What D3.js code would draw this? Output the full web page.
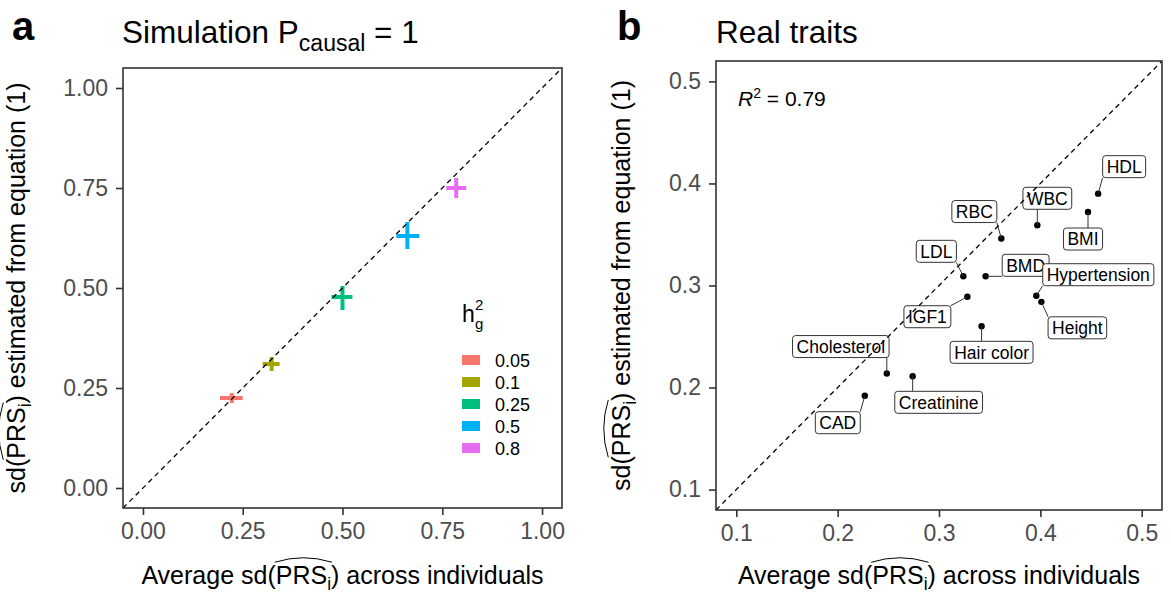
<!DOCTYPE html>
<html>
<head>
<meta charset="utf-8">
<script src="https://cdn.jsdelivr.net/npm/d3@7"></script>
<style>
body { margin: 0; background: #fff; }
svg { font-family: "Liberation Sans", Arial, Helvetica, sans-serif; }
</style>
</head>
<body>
<div id="chart"></div>
<script>
// panel a: simulation
const simH2 = ["0.05", "0.1", "0.25", "0.5", "0.8"];
const simX = [0.2225, 0.3225, 0.5, 0.6625, 0.785];
const simY = [0.225, 0.31, 0.4775, 0.63, 0.75];
const simXLo = [0.193, 0.30, 0.4725, 0.635, 0.76];
const simXHi = [0.25, 0.3425, 0.525, 0.6925, 0.81];
const simYLo = [0.2125, 0.2925, 0.445, 0.5975, 0.725];
const simYHi = [0.2375, 0.3275, 0.505, 0.665, 0.775];
const simTicks = [0, 0.25, 0.5, 0.75, 1];

// panel b: real traits
const traitNames = ["HDL", "BMI", "WBC", "RBC", "LDL", "BMD", "Hypertension", "Height", "IGF1", "Hair color", "Cholesterol", "Creatinine", "CAD"];
const traitX = [0.457, 0.447, 0.397, 0.3615, 0.324, 0.346, 0.396, 0.401, 0.328, 0.342, 0.2485, 0.274, 0.2268];
const traitY = [0.390, 0.372, 0.359, 0.346, 0.309, 0.309, 0.290, 0.284, 0.289, 0.260, 0.2137, 0.211, 0.192];
const realTicks = [0.1, 0.2, 0.3, 0.4, 0.5];
const rSquared = "0.79";

// repel offsets of the label boxes (px)
const labelShift = [[26, -27], [-5, 27], [10, -27], [-27, -27], [-27, -25], [40, -11], [62, -21],
                    [36, 26], [-40, 20], [10, 26], [-46, -27], [26, 26], [-27, 27]];

const COLORS = ["#F8766D", "#A3A500", "#00BF7D", "#00B0F6", "#E76BF3"];
const TICK_FS = 23, TITLE_FS = 25;

const svg = d3.select("#chart").append("svg")
    .attr("width", 1171)
    .attr("height", 593);

const A = { left: 123, right: 562, top: 68, bottom: 508 };
const B = { left: 716, right: 1162, top: 61, bottom: 510 };

const xA = d3.scaleLinear().domain([-0.05, 1.05]).range([A.left, A.right]);
const yA = d3.scaleLinear().domain([-0.05, 1.05]).range([A.bottom, A.top]);
const xB = d3.scaleLinear().domain([0.08, 0.52]).range([B.left, B.right]);
const yB = d3.scaleLinear().domain([0.08, 0.52]).range([B.bottom, B.top]);

function styleAxis(g) {
    g.select(".domain").remove();
    g.selectAll(".tick line").attr("stroke", "#333").attr("stroke-width", 1.6);
    g.selectAll(".tick text").attr("fill", "#4D4D4D").attr("font-size", TICK_FS);
}

function drawFrame(P, x, y, ticks, fmt) {
    svg.append("g")
        .attr("transform", `translate(0,${P.bottom})`)
        .call(d3.axisBottom(x).tickValues(ticks).tickFormat(d3.format(fmt)).tickSize(7).tickPadding(8))
        .call(styleAxis);
    svg.append("g")
        .attr("transform", `translate(${P.left},0)`)
        .call(d3.axisLeft(y).tickValues(ticks).tickFormat(d3.format(fmt)).tickSize(7).tickPadding(8))
        .call(styleAxis);
}

function drawBorder(P) {
    svg.append("rect")
        .attr("x", P.left).attr("y", P.top)
        .attr("width", P.right - P.left).attr("height", P.bottom - P.top)
        .attr("fill", "none").attr("stroke", "#333").attr("stroke-width", 1.6);
}

function drawDiagonal(P, x, y, clipId) {
    svg.append("clipPath").attr("id", clipId)
        .append("rect")
        .attr("x", P.left).attr("y", P.top)
        .attr("width", P.right - P.left).attr("height", P.bottom - P.top);
    const d = x.domain();
    svg.append("line")
        .attr("clip-path", `url(#${clipId})`)
        .attr("x1", x(d[0])).attr("y1", y(d[0]))
        .attr("x2", x(d[1])).attr("y2", y(d[1]))
        .attr("stroke", "#000").attr("stroke-width", 1.3)
        .attr("stroke-dasharray", "5,4");
}

// "Average sd(PRS_i) ..." style title with a wide hat over PRS_i
function hatTitle(g, before, after) {
    const t = g.append("text")
        .attr("text-anchor", "middle")
        .attr("font-size", TITLE_FS)
        .attr("fill", "#000");
    t.append("tspan").text(before);
    t.append("tspan").text("PRS");
    t.append("tspan").attr("font-size", TITLE_FS * 0.7).attr("dy", 6).text("i");
    t.append("tspan").attr("dy", -6).text(after);
    const node = t.node();
    const i0 = before.length, i1 = before.length + 3;
    const x0 = node.getStartPositionOfChar(i0).x - 1;
    const x1 = node.getEndPositionOfChar(i1).x + 1;
    const yh = -TITLE_FS * 0.75 - 3;
    g.append("path")
        .attr("d", `M${x0},${yh} Q${(x0 + x1) / 2},${yh - 9} ${x1},${yh}`)
        .attr("fill", "none").attr("stroke", "#000").attr("stroke-width", 1);
}

function axisTitles(P, yTitleX) {
    const gx = svg.append("g").attr("transform", `translate(${(P.left + P.right) / 2},584)`);
    hatTitle(gx, "Average sd(", ") across individuals");
    const gy = svg.append("g").attr("transform", `translate(${yTitleX},${(P.top + P.bottom) / 2}) rotate(-90)`);
    hatTitle(gy, "sd(", ") estimated from equation (1)");
}

// ---------- panel a ----------
drawFrame(A, xA, yA, simTicks, ".2f");

const simData = simH2.map((h, i) => ({
    h: h, x: simX[i], y: simY[i],
    xlo: simXLo[i], xhi: simXHi[i], ylo: simYLo[i], yhi: simYHi[i], color: COLORS[i]
}));

const crosses = svg.append("g").selectAll("g")
    .data(simData)
    .enter()
    .append("g")
    .attr("stroke", d => d.color)
    .attr("stroke-width", 4);
crosses.append("line")
    .attr("x1", d => xA(d.xlo)).attr("x2", d => xA(d.xhi))
    .attr("y1", d => yA(d.y)).attr("y2", d => yA(d.y));
crosses.append("line")
    .attr("x1", d => xA(d.x)).attr("x2", d => xA(d.x))
    .attr("y1", d => yA(d.ylo)).attr("y2", d => yA(d.yhi));

drawDiagonal(A, xA, yA, "clipA");
drawBorder(A);

// legend
const legend = svg.append("g").attr("transform", "translate(462,0)");
legend.append("text").attr("x", 0).attr("y", 322).attr("font-size", 23).text("h");
legend.append("text").attr("x", 13).attr("y", 310).attr("font-size", 15).text("2");
legend.append("text").attr("x", 13).attr("y", 329).attr("font-size", 15).text("g");
legend.selectAll("rect.key")
    .data(simData)
    .enter()
    .append("rect")
    .attr("class", "key")
    .attr("x", 0)
    .attr("y", (d, i) => 355 + i * 22)
    .attr("width", 18).attr("height", 10)
    .attr("fill", d => d.color);
legend.selectAll("text.lab")
    .data(simData)
    .enter()
    .append("text")
    .attr("class", "lab")
    .attr("x", 33)
    .attr("y", (d, i) => 366.5 + i * 22)
    .attr("font-size", 18)
    .attr("fill", "#000")
    .text(d => d.h);

// titles
svg.append("text").attr("x", 12).attr("y", 40).attr("font-size", 40).attr("font-weight", "bold").text("a");
const titleA = svg.append("text").attr("x", 122).attr("y", 43).attr("font-size", 31.5);
titleA.append("tspan").text("Simulation P");
titleA.append("tspan").attr("font-size", 23).attr("dy", 8).text("causal");
titleA.append("tspan").attr("dy", -8).text(" = 1");

axisTitles(A, 25);

// ---------- panel b ----------
drawFrame(B, xB, yB, realTicks, ".1f");

const traits = traitNames.map((n, i) => ({
    name: n, x: traitX[i], y: traitY[i], dx: labelShift[i][0], dy: labelShift[i][1]
}));

svg.append("g").selectAll("circle")
    .data(traits)
    .enter()
    .append("circle")
    .attr("cx", d => xB(d.x))
    .attr("cy", d => yB(d.y))
    .attr("r", 3.2)
    .attr("fill", "#000");

const LABEL_FS = 17.5, PAD = 4, BOX_H = 22;
const labelLayer = svg.append("g");
traits.forEach(d => {
    const px = xB(d.x), py = yB(d.y);
    const cx = px + d.dx, cy = py + d.dy;
    const g = labelLayer.append("g");
    const seg = g.append("line");
    const rect = g.append("rect");
    const t = g.append("text")
        .attr("x", cx).attr("y", cy)
        .attr("dy", "0.36em")
        .attr("text-anchor", "middle")
        .attr("font-size", LABEL_FS)
        .attr("fill", "#000")
        .text(d.name);
    const w = t.node().getComputedTextLength() + 2 * PAD;
    const bx0 = cx - w / 2, bx1 = cx + w / 2, by0 = cy - BOX_H / 2, by1 = cy + BOX_H / 2;
    rect.attr("x", bx0).attr("y", by0).attr("width", w).attr("height", BOX_H)
        .attr("rx", 3).attr("fill", "#fff").attr("stroke", "#333").attr("stroke-width", 1);
    const ex = Math.max(bx0, Math.min(bx1, px));
    const ey = Math.max(by0, Math.min(by1, py));
    seg.attr("x1", px).attr("y1", py).attr("x2", ex).attr("y2", ey)
        .attr("stroke", "#333").attr("stroke-width", 1);
});

drawDiagonal(B, xB, yB, "clipB");
drawBorder(B);

const r2 = svg.append("text").attr("x", 738).attr("y", 106).attr("font-size", 21).attr("fill", "#000");
r2.append("tspan").attr("font-style", "italic").text("R");
r2.append("tspan").attr("font-size", 14).attr("dy", -8).text("2");
r2.append("tspan").attr("dy", 8).text(" = " + rSquared);

svg.append("text").attr("x", 617).attr("y", 40).attr("font-size", 40).attr("font-weight", "bold").text("b");
svg.append("text").attr("x", 716).attr("y", 43).attr("font-size", 31.5).text("Real traits");

axisTitles(B, 630);
</script>
</body>
</html>
